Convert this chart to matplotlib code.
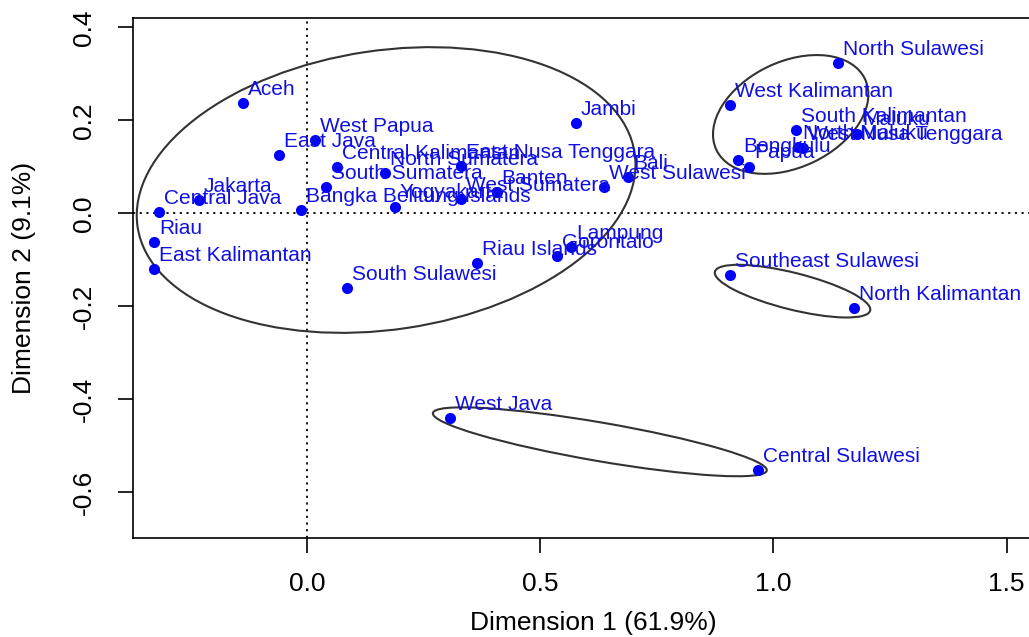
import matplotlib
matplotlib.use("Agg")
import matplotlib.pyplot as plt
from matplotlib.patches import Ellipse

plt.rcParams['font.family'] = ['Liberation Sans', 'DejaVu Sans']

provinces = ["Aceh", "East Java", "West Papua", "Central Kalimantan", "North Sumatera",
             "East Nusa Tenggara", "South Sumatera", "Bangka Belitung Islands", "Yogyakarta",
             "West Sumatera", "Banten", "West Sulawesi", "Bali", "Jambi", "Lampung",
             "Gorontalo", "Riau Islands", "South Sulawesi", "Jakarta", "Central Java",
             "Riau", "East Kalimantan", "North Sulawesi", "West Kalimantan",
             "South Kalimantan", "Maluku", "North Maluku", "West Nusa Tenggara",
             "Bengkulu", "Papua", "Southeast Sulawesi", "North Kalimantan",
             "West Java", "Central Sulawesi"]
dim1 = [-0.137, -0.059, 0.018, 0.064, 0.168,
        0.331, 0.041, -0.013, 0.189,
        0.331, 0.407, 0.637, 0.688, 0.576, 0.566,
        0.537, 0.364, 0.086, -0.232, -0.316,
        -0.327, -0.327, 1.139, 0.907,
        1.048, 1.180, 1.053, 1.063,
        0.924, 0.948, 0.907, 1.173,
        0.306, 0.966]
dim2 = [0.237, 0.126, 0.158, 0.100, 0.088,
        0.102, 0.057, 0.007, 0.015,
        0.031, 0.047, 0.057, 0.078, 0.195, -0.073,
        -0.091, -0.106, -0.160, 0.029, 0.003,
        -0.061, -0.119, 0.323, 0.233,
        0.180, 0.172, 0.143, 0.141,
        0.115, 0.101, -0.132, -0.204,
        -0.439, -0.552]

# cluster ellipses: center x, center y, width, height, angle
ell_cx = [0.170, 1.037, 1.041, 0.628]
ell_cy = [0.0505, 0.213, -0.167, -0.491]
ell_w = [1.077, 0.353, 0.343, 0.726]
ell_h = [0.600, 0.227, 0.079, 0.083]
ell_ang = [8.5, 25.7, -14.1, -9.8]

xticks = [0.0, 0.5, 1.0, 1.5]
yticks = [-0.6, -0.4, -0.2, 0.0, 0.2, 0.4]
xlabel = "Dimension 1 (61.9%)"
ylabel = "Dimension 2 (9.1%)"

fig = plt.figure(figsize=(10.29, 6.37), dpi=100)
ax = fig.add_axes([0.129, 0.1562, 0.8947, 0.8151])
ax.set_xlim(-0.373, 1.6)
ax.set_ylim(-0.6968, 0.4198)

ax.axhline(0, color='black', linestyle=(0, (1.2, 2.5)), linewidth=1.3, zorder=1)
ax.axvline(0, color='black', linestyle=(0, (1.2, 2.5)), linewidth=1.3, zorder=1)

for cx, cy, w, h, a in zip(ell_cx, ell_cy, ell_w, ell_h, ell_ang):
    ax.add_patch(Ellipse((cx, cy), w, h, angle=a, fill=False,
                         edgecolor='#333333', linewidth=1.5, zorder=2))

ax.scatter(dim1, dim2, s=64, color='#0000ff', zorder=3, linewidths=0)
for name, x, y in zip(provinces, dim1, dim2):
    ax.annotate(name, (x, y), xytext=(3.6, 5.8), textcoords='offset points',
                ha='left', va='baseline', fontsize=15, color='#1010e0', zorder=4)

ax.set_xticks(xticks)
ax.set_xticklabels([f"{v:.1f}" for v in xticks])
ax.set_yticks(yticks)
ax.set_yticklabels([f"{v:.1f}" for v in yticks])
ax.tick_params(axis='both', direction='out', length=10.5, width=1.2,
               labelsize=19, colors='black')
ax.tick_params(axis='x', pad=14)
ax.tick_params(axis='y', pad=16, labelrotation=90)
for lbl in ax.get_yticklabels():
    lbl.set_va('center')
for sp in ax.spines.values():
    sp.set_linewidth(1.2)

ax.set_xlabel(xlabel, fontsize=19, labelpad=11)
ax.set_ylabel(ylabel, fontsize=19, labelpad=26)

fig.savefig("out.png", dpi=100)
